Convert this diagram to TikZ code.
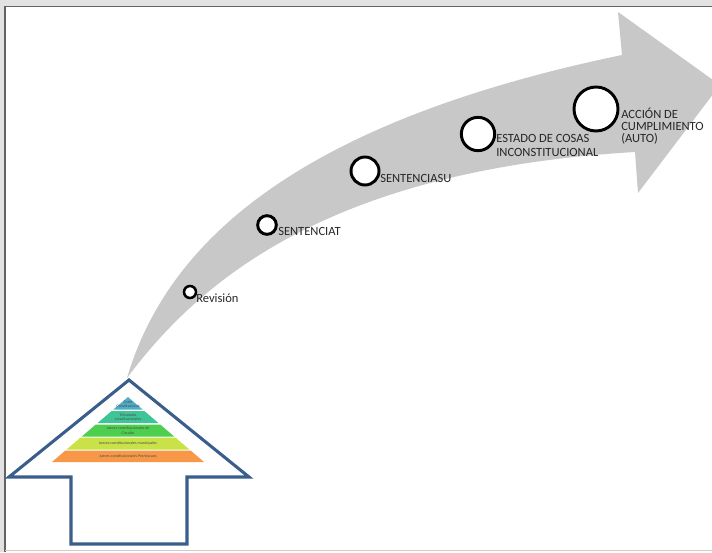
\documentclass[tikz,border=0pt]{standalone}
\usepackage{fontspec}
\setmainfont{Carlito}
\definecolor{arrowgray}{RGB}{200,200,200}
\definecolor{houseblue}{RGB}{58,94,140}
\definecolor{lvlA}{RGB}{80,172,200}
\definecolor{lvlB}{RGB}{62,196,150}
\definecolor{lvlC}{RGB}{78,206,78}
\definecolor{lvlD}{RGB}{200,226,72}
\definecolor{lvlE}{RGB}{247,152,72}
\definecolor{pageedge}{RGB}{100,100,100}
\definecolor{pageshade}{RGB}{226,226,226}
\begin{document}
\begin{tikzpicture}[x=0.75pt,y=-0.75pt,
  stagedot/.style={circle, draw=black, line width=2.2pt, fill=white, inner sep=0pt},
  stagelabel/.style={anchor=base west, inner sep=0pt, font=\fontsize{9.4}{9.75}\selectfont, text=black!85},
  lvltext/.style={inner sep=0pt, align=center, font=\fontsize{3}{3.3}\selectfont, text=black!70}]
\useasboundingbox (0,0) rectangle (712,552);
\clip (0,0) rectangle (712,552);

% page and its edge
\fill[white] (0,0) rectangle (712,552);
\fill[pageshade] (0,0) rectangle (712,6);
\fill[pageshade] (0,0) rectangle (4,552);
\draw[pageedge, line width=1.4pt] (5,552) -- (5,6.5) -- (712,6.5);
\draw[black!20, line width=1pt] (5,550.5) -- (712,550.5);

% curved grey arrow
\fill[arrowgray] (127,378) .. controls (165,250) and (285,125) .. (622,55)
  -- (618,12) -- (720,85) -- (638,193) -- (635,152)
  .. controls (330,170) and (200,280) .. (127,378) -- cycle;

% stages along the arrow
\node[stagedot, minimum size=9pt, line width=1.9pt] (rev) at (190,292) {};
\node[stagedot, minimum size=14pt] (st) at (267,225) {};
\node[stagedot, minimum size=21pt] (su) at (365,171) {};
\node[stagedot, minimum size=25pt] (eci) at (478,134) {};
\node[stagedot, minimum size=33pt] (acc) at (596,109) {};

\node[stagelabel] (revlbl) at (196,302.5) {Revisión};
\node[stagelabel] (stlbl) at (278,235) {SENTENCIAT};
\node[stagelabel] (sulbl) at (380,182) {SENTENCIASU};
\node[stagelabel] (ecilblA) at (496,143) {ESTADO DE COSAS};
\node[stagelabel] (ecilblB) at (496,156.5) {INCONSTITUCIONAL};
\node[stagelabel] (acclblA) at (621,118.5) {ACCIÓN DE};
\node[stagelabel] (acclblB) at (621,130.5) {CUMPLIMIENTO};
\node[stagelabel] (acclblC) at (621,143) {(AUTO)};

% block arrow pointing up
\draw[houseblue, line width=2.3pt, line join=miter, fill=white]
  (129,380) -- (249,477) -- (187,477) -- (187,544) -- (71,544) -- (71,477) -- (9,477) -- cycle;

% hierarchy pyramid
\fill[lvlA] (128,397) -- (142.6,409.5) -- (113.4,409.5) -- cycle;
\fill[lvlB] (111.6,411) -- (144.4,411) -- (158.4,423) -- (97.6,423) -- cycle;
\fill[lvlC] (95.8,424.5) -- (160.2,424.5) -- (174.2,436.5) -- (81.8,436.5) -- cycle;
\fill[lvlD] (80.6,437.5) -- (175.4,437.5) -- (189.4,449.5) -- (66.6,449.5) -- cycle;
\fill[lvlE] (65.4,450.5) -- (190.6,450.5) -- (204,462) -- (52,462) -- cycle;

\node[lvltext] (lvl1) at (128,404.5) {Corte\\Constitucional};
\node[lvltext] (lvl2) at (128,417) {Tribunales\\constitucionales};
\node[lvltext] (lvl3) at (128,430.5) {Jueces constitucionales de\\Circuito};
\node[lvltext] (lvl4) at (128,443.5) {Jueces constitucionales municipales};
\node[lvltext] (lvl5) at (128,456.3) {Jueces constitucionales Promiscuos};
\end{tikzpicture}
\end{document}
